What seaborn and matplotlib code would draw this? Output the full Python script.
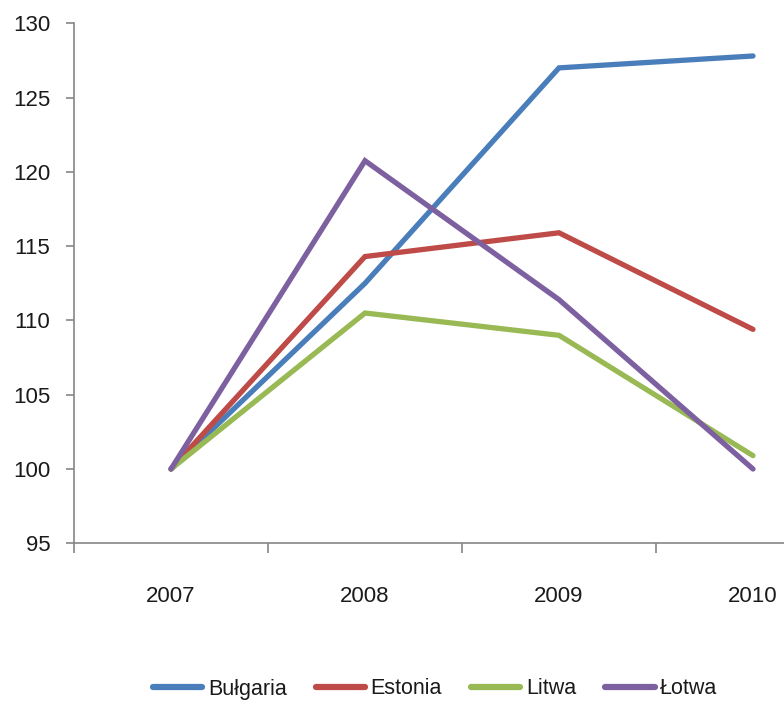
import matplotlib
matplotlib.use("Agg")
import matplotlib.pyplot as plt
from matplotlib import font_manager
import seaborn as sns
import pandas as pd

# Index values (2007 = 100)
years = ["2007", "2008", "2009", "2010"]
countries = ["Bułgaria", "Estonia", "Litwa", "Łotwa"]
bulgaria = [100.0, 112.5, 127.0, 127.8]
estonia = [100.0, 114.3, 115.9, 109.4]
litwa = [100.0, 110.5, 109.0, 100.9]
lotwa = [100.0, 120.75, 111.4, 100.0]
colors = ["#4A7EBB", "#BE4B48", "#98B954", "#7D60A0"]
y_ticks = [95, 100, 105, 110, 115, 120, 125, 130]

series = [bulgaria, estonia, litwa, lotwa]
df = pd.DataFrame({
    "rok": [y for _ in countries for y in years],
    "kraj": [c for c in countries for _ in years],
    "wartość": [v for s in series for v in s],
})

sns.set_theme(style="white")
available = {f.name for f in font_manager.fontManager.ttflist}
if "Liberation Sans Narrow" in available:
    family, tick_size, legend_size = "Liberation Sans Narrow", 20, 19
else:
    family, tick_size, legend_size = "Liberation Sans", 16, 15.5
plt.rcParams["font.family"] = [family, "DejaVu Sans"]

fig = plt.figure(figsize=(7.84, 7.05), dpi=100)
W, H = 784, 705
left_px, right_px, top_px, bottom_px = 74, 850, 23.3, 543.3
ax = fig.add_axes([left_px / W, (H - bottom_px) / H,
                   (right_px - left_px) / W, (bottom_px - top_px) / H])

sns.lineplot(data=df, x="rok", y="wartość", hue="kraj", hue_order=countries,
             palette=colors, linewidth=3.8, ax=ax, sort=False,
             solid_capstyle="round", solid_joinstyle="miter", legend=False)

axis_color = "#868686"
text_color = "#1a1a1a"
ax.set_xlim(-0.5, 3.5)
ax.set_ylim(95, 130)
ax.set_yticks(y_ticks)
ax.set_yticklabels([str(t) for t in y_ticks])
ax.set_xticks(range(len(years)))
ax.set_xticklabels(years)
ax.set_xticks([i - 0.5 for i in range(len(years) + 1)], minor=True)
ax.set_xlabel("")
ax.set_ylabel("")

for side in ["top", "right"]:
    ax.spines[side].set_visible(False)
for side in ["left", "bottom"]:
    ax.spines[side].set_color(axis_color)
    ax.spines[side].set_linewidth(1.2)

ax.tick_params(axis="y", which="major", direction="out", length=5.5, width=1.2,
               color=axis_color, pad=11.5, labelsize=tick_size, labelcolor=text_color, left=True)
ax.tick_params(axis="x", which="major", length=0, pad=31, labelsize=tick_size,
               labelcolor=text_color, bottom=True)
ax.tick_params(axis="x", which="minor", direction="out", length=7.5, width=1.2,
               color=axis_color, bottom=True)
ax.grid(False)

handles = [plt.Line2D([], [], color=c, linewidth=4.5, solid_capstyle="round") for c in colors]
fig.legend(handles, countries, loc="center", bbox_to_anchor=(435 / W, (H - 689) / H),
           ncol=4, frameon=False, fontsize=legend_size, handlelength=2.3, handletextpad=0.25,
           columnspacing=1.35, labelcolor=text_color)

fig.savefig("out.png", dpi=100, facecolor="white")
